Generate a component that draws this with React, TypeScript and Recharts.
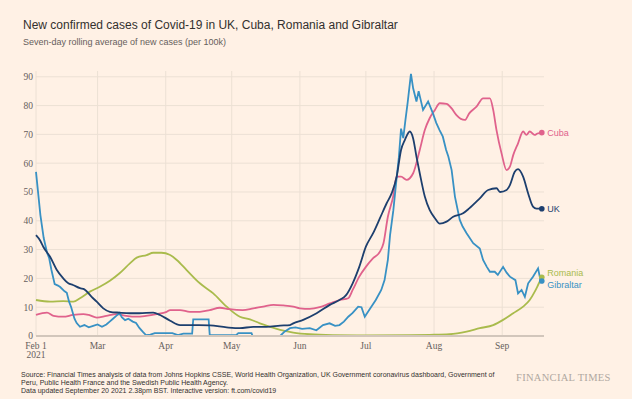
import React from "react";
import { LineChart, Line, XAxis, YAxis, CartesianGrid } from "recharts";

// Day index counted from Feb 1 2021
const monthTicks = [0, 28, 59, 89, 120, 150, 181, 212];
const monthLabels = ["Feb 1", "Mar", "Apr", "May", "Jun", "Jul", "Aug", "Sep"];
const yTicks = [0, 10, 20, 30, 40, 50, 60, 70, 80, 90];

const ukDays = [0, 2, 3.3, 6.4, 9.4, 12.4, 14.7, 16.8, 20, 22, 25.3, 27.6, 30.6, 33.6, 38, 42.7, 47, 53.3, 56.4, 61, 65.5, 74, 79, 86.7, 92.7, 98.8, 104.8, 111, 115.5, 117, 121.5, 127.6, 133.6, 138, 141, 144, 147, 150, 153.3, 156.4, 159.4, 161.7, 164, 166, 167.7, 170, 171.5, 173, 174.5, 176.8, 179, 181.4, 183.6, 186.7, 189.7, 194.2, 197, 201.8, 205.6, 209.4, 211, 214, 215.5, 217.7, 219.2, 221.5, 223.8, 226, 227.6, 230];
const ukValues = [35, 33, 31, 27.5, 23, 20, 18.3, 17.7, 16.6, 16.2, 13.6, 11.9, 9.6, 8.4, 8.1, 7.9, 7.9, 8.1, 7.3, 5.3, 3.8, 3.8, 3.7, 3, 2.7, 3.2, 3.2, 3.6, 3.8, 4.4, 5.6, 7.9, 10.8, 12.5, 14.2, 18.3, 24, 31, 35.7, 40.9, 46, 49.5, 55.3, 64.6, 68, 71, 68.6, 62.3, 56.5, 48.4, 43.75, 40.9, 39, 39.7, 41.4, 42.6, 44.3, 47.8, 50.7, 51.3, 50, 50.7, 52.4, 57, 57.9, 55.3, 49.5, 44.9, 44.2, 44.2];

const cubaDays = [0, 5, 8, 12.4, 16.8, 21.5, 24, 27.6, 32, 36.7, 41, 45.8, 50, 54.8, 59.4, 61, 65.5, 70, 74.5, 79, 83.6, 88, 94, 98.8, 103.3, 108, 112.4, 117, 120, 124.5, 129, 133.6, 138, 142, 144, 147, 150, 153.3, 156.4, 158, 160, 162.4, 164, 166, 168.5, 171.5, 174.5, 176.8, 179, 181.4, 183.6, 186.7, 189, 191.2, 195, 197, 200.3, 203.3, 206.4, 207.9, 209.4, 211.7, 214, 215.5, 217, 219.2, 221.5, 223, 224.5, 226.7, 228, 230];
const cubaValues = [7.3, 8.1, 7, 6.7, 7.3, 7.6, 7.3, 6.4, 7, 7.6, 7, 6.7, 7, 7.6, 8.4, 9, 9, 8.4, 8.4, 9, 9.8, 9.3, 9, 9.6, 10.2, 10.8, 10.6, 10.2, 9.6, 9.4, 10, 11.3, 12.5, 13.1, 16, 20.6, 24, 27, 29.3, 32.2, 41.4, 48.4, 55.3, 55.3, 54.2, 56.5, 64.6, 71.5, 75.6, 78.5, 80.8, 80.6, 79, 76.7, 75, 77.3, 79.6, 82.5, 82.5, 78.5, 71.5, 63.4, 57.6, 58.8, 62.8, 66.9, 71, 69.8, 71, 69.8, 70.3, 70.6];

const romaniaDays = [0, 6.4, 12.4, 17, 20, 24.5, 29, 33.6, 38, 42.7, 45.8, 50.3, 53.3, 57, 61, 64, 68.5, 74.5, 80.6, 86.7, 92.7, 97.3, 101.8, 106.4, 111, 117, 124.5, 135, 150, 170, 179, 188, 195.8, 201.8, 207.9, 212.4, 217, 221.5, 224.5, 226.8, 228.3, 230];
const romaniaValues = [12.5, 11.9, 12.1, 11.9, 13.1, 15.4, 17.1, 19.2, 21.8, 25.2, 27.2, 28.1, 28.9, 28.9, 28.1, 26.4, 22.9, 18.3, 14.8, 10.2, 6.7, 5.8, 4.4, 3.2, 2.1, 1.2, 0.6, 0.3, 0.2, 0.3, 0.4, 0.6, 1.5, 2.7, 3.8, 5.6, 7.9, 10.2, 12.5, 15.4, 17.7, 20.4];

const gibDays = [0, 2, 3.5, 5, 6, 7, 8.5, 10, 11, 13, 14, 15, 16, 17.5, 18.5, 20, 22, 24, 26, 28, 30, 32, 33.5, 35, 36.5, 38, 39, 40.5, 42, 44, 45.5, 47, 48.5, 50, 52, 54, 58, 62, 64.5, 67, 71, 71.5, 78.5, 79, 86, 91, 92, 98, 98.5, 111, 113, 115.5, 118, 121, 124.5, 127.5, 130.5, 133.5, 136, 138, 140, 142, 144, 146.5, 148, 149.5, 151.5, 154.5, 157, 158.5, 160, 161, 162.5, 164, 165, 166, 167, 168, 169, 170.5, 171.5, 173, 174, 176, 178.3, 180.5, 182, 183.5, 185, 186.5, 187.5, 189, 190.5, 192.7, 194, 195.8, 198.8, 201.8, 203.3, 205, 206.4, 208.6, 210, 212.4, 214, 215.5, 218, 219.2, 220.8, 222.3, 223.8, 226, 228.3, 229.4, 230];
const gibValues = [57, 42, 34, 29, 27, 23, 18, 17.5, 17, 15.5, 15, 12, 10, 6, 4.5, 3.2, 3.8, 3, 3.5, 4, 3.2, 4, 5, 6, 7, 8, 6.5, 5.5, 6, 5, 4.5, 2.8, 1.5, 0.3, 0.5, 1, 1, 1, 0.3, 0.8, 0.8, 5.8, 5.8, 0.3, 0.3, 0.3, 1, 1, 0, 0, 1.5, 2.7, 3, 2.5, 2.7, 2, 3.8, 4.4, 3.5, 3.8, 5, 6.7, 8, 10.2, 10, 6.7, 9, 12.5, 16, 19.4, 26.4, 35, 43.7, 55, 62, 72, 68.7, 75, 81, 91, 86, 81.4, 85, 78.5, 81.4, 77.3, 74, 71.5, 69.2, 64.6, 62.3, 57.6, 48.4, 40.3, 38, 35.7, 32.2, 30.4, 26.4, 24, 22.3, 22.3, 21.2, 24, 22, 20.6, 19.4, 14.8, 16, 13.6, 18.3, 20.6, 23.5, 19.4, 19.1];

const toRows = (days: number[], values: number[]) => days.map((d, i) => ({ d, v: values[i] }));

const BG = "#fff1e5";
const GRID = "#ece0d4";
const C_UK = "#1d3f6e";
const C_CUBA = "#e0628c";
const C_ROM = "#a9bb4c";
const C_GIB = "#3891c4";
const SERIF = "'Liberation Serif', 'Times New Roman', serif";
const SANS = "'Liberation Sans', Arial, sans-serif";

const makeEndDot = (n: number, color: string, label: string, dy: number) => (props: any) => {
  const { cx, cy, index } = props;
  if (index !== n - 1) return <g key={`e${index}`} />;
  return (
    <g key={`e${index}`}>
      <circle cx={cx} cy={cy} r={2.8} fill={color} stroke="none" />
      <text x={cx + 5.5} y={cy + dy} dy="0.35em" fontSize={9} fontFamily={SANS} fill={color}>
        {label}
      </text>
    </g>
  );
};

const XTick = (props: any) => {
  const { x, y, payload } = props;
  const i = monthTicks.indexOf(payload.value);
  return (
    <g>
      <text x={x} y={y + 13} textAnchor="middle" fontSize={9.5} fontFamily={SERIF} fill="#66605c">
        {monthLabels[i]}
      </text>
      {i === 0 && (
        <text x={x} y={y + 22} textAnchor="middle" fontSize={9.5} fontFamily={SERIF} fill="#66605c">
          2021
        </text>
      )}
    </g>
  );
};

export default function App() {
  const uk = toRows(ukDays, ukValues);
  const cuba = toRows(cubaDays, cubaValues);
  const rom = toRows(romaniaDays, romaniaValues);
  const gib = toRows(gibDays, gibValues);
  return (
    <div style={{ position: "absolute", left: 0, top: 0, width: 632, height: 399, background: BG, overflow: "hidden" }}>
      <div style={{ position: "absolute", left: 23, top: 17.5, fontFamily: SANS, fontSize: 12, lineHeight: "15px", color: "#33302e", whiteSpace: "nowrap" }}>
        New confirmed cases of Covid-19 in UK, Cuba, Romania and Gibraltar
      </div>
      <div style={{ position: "absolute", left: 23, top: 36, fontFamily: SANS, fontSize: 9, lineHeight: "12px", color: "#66605c", whiteSpace: "nowrap" }}>
        Seven-day rolling average of new cases (per 100k)
      </div>
      <div style={{ position: "absolute", left: 0, top: 0 }}>
        <LineChart width={632} height={399} margin={{ top: 71, right: 88, bottom: 0, left: 0 }}>
          <CartesianGrid stroke={GRID} strokeWidth={1} verticalValues={monthTicks} horizontalValues={yTicks.slice(1)} />
          <XAxis
            dataKey="d"
            type="number"
            domain={[0, 231]}
            ticks={monthTicks}
            interval={0}
            tickLine={false}
            tickSize={0}
            tickMargin={0}
            axisLine={{ stroke: "#d2c6bb", strokeWidth: 2 }}
            tick={<XTick />}
            height={63}
          />
          <YAxis
            type="number"
            domain={[0, 92]}
            ticks={yTicks}
            interval={0}
            axisLine={false}
            tickLine={false}
            tickSize={0}
            tickMargin={3}
            width={36}
            tick={{ fontSize: 9.5, fontFamily: SERIF, fill: "#66605c" }}
          />
          <Line data={rom} dataKey="v" stroke={C_ROM} strokeWidth={1.8} type="monotone" isAnimationActive={false} dot={makeEndDot(rom.length, C_ROM, "Romania", -4)} activeDot={false} />
          <Line data={cuba} dataKey="v" stroke={C_CUBA} strokeWidth={1.8} type="monotone" isAnimationActive={false} dot={makeEndDot(cuba.length, C_CUBA, "Cuba", 0)} activeDot={false} />
          <Line data={gib} dataKey="v" stroke={C_GIB} strokeWidth={1.8} type="linear" isAnimationActive={false} dot={makeEndDot(gib.length, C_GIB, "Gibraltar", 4)} activeDot={false} />
          <Line data={uk} dataKey="v" stroke={C_UK} strokeWidth={1.8} type="monotone" isAnimationActive={false} dot={makeEndDot(uk.length, C_UK, "UK", 0)} activeDot={false} />
        </LineChart>
      </div>
      <div style={{ position: "absolute", left: 21, top: 371, fontFamily: SANS, fontSize: 7, lineHeight: "8px", color: "#33302e", whiteSpace: "nowrap" }}>
        <div>Source: Financial Times analysis of data from Johns Hopkins CSSE, World Health Organization, UK Government coronavirus dashboard, Government of</div>
        <div>Peru, Public Health France and the Swedish Public Health Agency.</div>
        <div>Data updated September 20 2021 2.38pm BST. Interactive version: ft.com/covid19</div>
      </div>
      <div style={{ position: "absolute", left: 516, top: 370, fontFamily: SERIF, fontSize: 10.5, lineHeight: "16px", color: "#b0a8a1", whiteSpace: "nowrap", letterSpacing: 0.3 }}>
        FINANCIAL TIMES
      </div>
    </div>
  );
}
